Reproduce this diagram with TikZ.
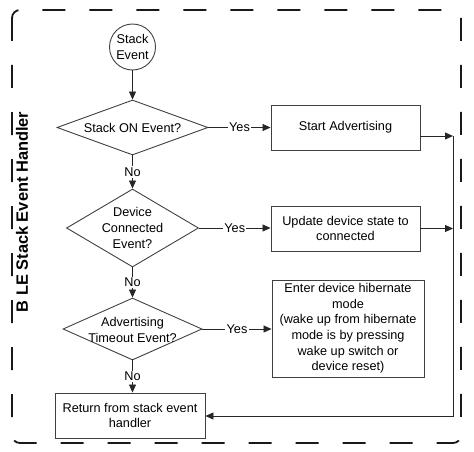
\documentclass[tikz,border=0pt]{standalone}
\usepackage{fontspec}
\setmainfont{Liberation Sans}
\usetikzlibrary{arrows.meta,shapes.geometric}
\begin{document}
\begin{tikzpicture}[x=1pt,y=-1pt,
  every node/.style={font=\fontsize{12.7}{15.6}\selectfont},
  shapeline/.style={draw=black!75, line width=0.9pt},
  procbox/.style={shapeline, rectangle, inner sep=0pt, align=center},
  decision/.style={shapeline, diamond, inner sep=0pt},
  txt/.style={align=center, inner sep=0pt},
  conn/.style={draw=black!85, line width=0.8pt, -{Triangle[length=8pt,width=7pt]}},
  lbl/.style={fill=white, inner sep=1.2pt},
  frame/.style={draw=black!90, line width=1.8pt, dash pattern=on 23pt off 24pt, rounded corners=8pt}]
\useasboundingbox (0,0) rectangle (474,452);

% frame
\draw[frame] (12,10) rectangle (461,443);
\node[rotate=90, font=\fontsize{16.4}{18}\selectfont\bfseries] (title) at (22,212) {B LE Stack Event Handler};

% start
\node[shapeline, circle, minimum size=46pt, inner sep=0pt, align=center] (start) at (132.5,47) {Stack\\Event};

% decisions
\node[decision, minimum width=151pt, minimum height=55pt] (d1) at (132.5,127.5) {};
\node[txt] (d1t) at (d1) {Stack ON Event?};
\node[decision, minimum width=132pt, minimum height=78pt] (d2) at (132.5,228) {};
\node[txt] (d2t) at (d2) {Device\\Connected\\Event?};
\node[decision, minimum width=139pt, minimum height=62pt] (d3) at (132.5,329) {};
\node[txt] (d3t) at (132.5,330) {Advertising\\Timeout Event?};

% process boxes
\node[procbox, minimum width=149pt, minimum height=45pt] (b1) at (345.5,127.5) {Start Advertising};
\node[procbox, minimum width=149pt, minimum height=45pt] (b2) at (345.5,228.5) {Update device state to\\connected};
\node[procbox, minimum width=152pt, minimum height=97pt] (b3) at (348,328.5) {Enter device hibernate\\mode\\(wake up from hibernate\\mode is by pressing\\wake up switch or\\device reset)};
\node[procbox, minimum width=150pt, minimum height=45pt] (ret) at (130,415.5) {Return from stack event\\handler};

% right collector line
\coordinate (r1) at (453,136);
\coordinate (r2) at (453,228.5);
\coordinate (r3) at (453,416);

% connectors
\draw[conn] (start) -- (d1);
\draw[conn] (d1.east) -- node[lbl] (y1) {Yes} (b1.west);
\draw[conn] (d1.south) -- node[lbl] (n1) {No} (d2.north);
\draw[conn] (d2.east) -- node[lbl] (y2) {Yes} (d2.east -| b2.west);
\draw[conn] (d2.south) -- node[lbl] (n2) {No} (d3.north);
\draw[conn] (d3.east) -- node[lbl] (y3) {Yes} (d3.east -| b3.west);
\draw[conn] (d3.south) -- node[lbl] (n3) {No} (d3.south |- ret.north);

\draw[conn] (b1.east |- r1) -- (r1);
\draw[conn] (b2.east |- r2) -- (r2);
\draw[conn] (r1) -- (r3) -- (ret.east |- r3);
\end{tikzpicture}
\end{document}
